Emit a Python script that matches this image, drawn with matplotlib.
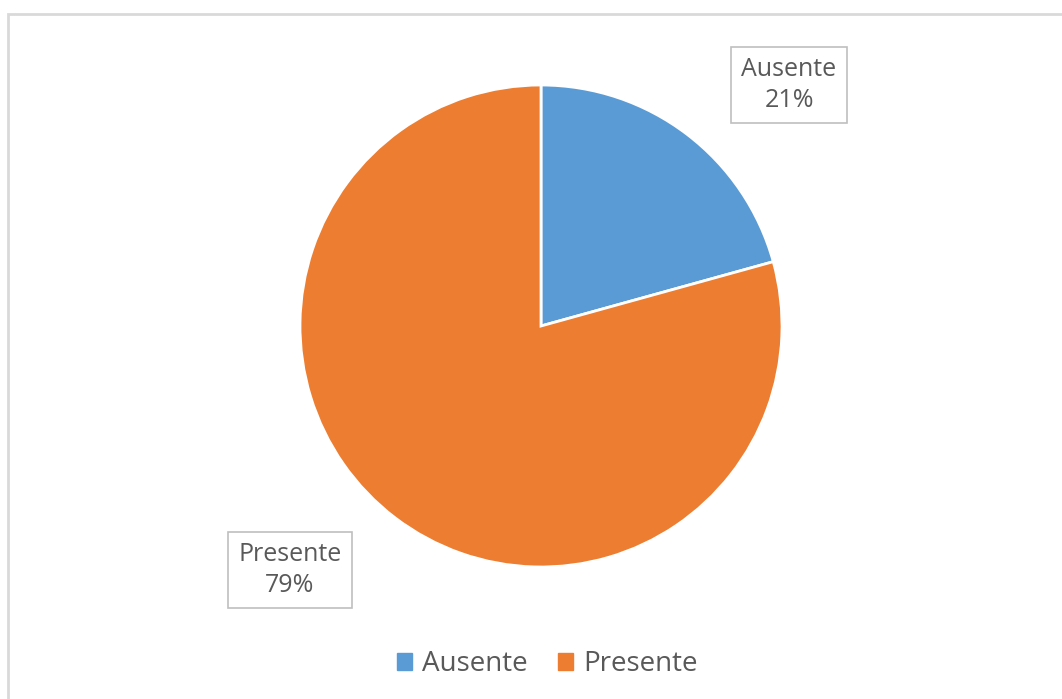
import matplotlib
matplotlib.use("Agg")
import matplotlib.pyplot as plt
from matplotlib.patches import Rectangle, Patch

categories = ["Ausente", "Presente"]
shares = [20.7, 79.3]
pct_labels = ["21%", "79%"]
colors = ["#5B9BD5", "#ED7D31"]

W, H = 1062, 699
fig = plt.figure(figsize=(W / 100, H / 100), dpi=100)
plt.rcParams["font.family"] = ["Open Sans", "DejaVu Sans"]
TXT = "#595959"

# outer chart border (light gray)
fig.patches.append(Rectangle((8 / W, -0.01), 1.02, 1 - 14 / H + 0.01, transform=fig.transFigure,
                             fill=False, edgecolor="#D9D9D9", lw=2))

cx, cy, r = 541, 326, 241
ax = fig.add_axes([(cx - r) / W, 1 - (cy + r) / H, 2 * r / W, 2 * r / H])
ax.pie(shares, colors=colors, startangle=90, counterclock=False, radius=1,
       wedgeprops=dict(edgecolor="white", linewidth=2))
ax.set_xlim(-1, 1); ax.set_ylim(-1, 1)
ax.set_aspect("auto")
ax.axis("off")

box = dict(boxstyle="square,pad=0.4", fc="white", ec="#BFBFBF", lw=1.2)
pos = [(789, 85), (290, 570)]
for (x, y), c, p in zip(pos, categories, pct_labels):
    fig.text(x / W, 1 - y / H, f"{c}\n{p}", ha="center", va="center", fontsize=18,
             color=TXT, bbox=box, linespacing=1.3)

handles = [Patch(color=c, label=l) for c, l in zip(colors, categories)]
fig.legend(handles=handles, loc="center", bbox_to_anchor=(547 / W, 1 - 664 / H), ncol=2,
           frameon=False, fontsize=20, labelcolor=TXT, handlelength=0.55, handleheight=0.55,
           handletextpad=0.35, columnspacing=1.1)

fig.savefig("out.png", dpi=100)
